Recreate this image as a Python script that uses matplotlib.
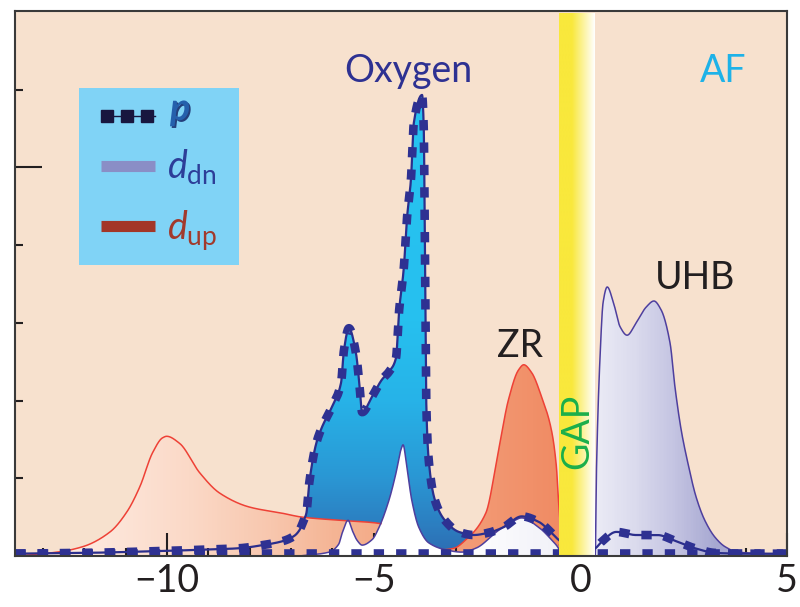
import numpy as np
import matplotlib
matplotlib.use("Agg")
import matplotlib.pyplot as plt
from matplotlib.colors import LinearSegmentedColormap
from matplotlib.patches import Polygon, Rectangle
from matplotlib.ticker import FixedLocator
import matplotlib.patheffects as pe

plt.rcParams["font.family"] = ["Lato", "DejaVu Sans"]
plt.rcParams["mathtext.fontset"] = "custom"
plt.rcParams["mathtext.rm"] = "Lato"
plt.rcParams["mathtext.it"] = "Lato:italic"

# ---- density of states (energy in eV, arbitrary units) ----
# oxygen p states (upper dotted curve)
p_x = [-13.68, -12.0, -10.42, -9.21, -8.25, -7.69, -7.21, -6.92, -6.80, -6.70,
       -6.63, -6.56, -6.39, -6.25, -6.01, -5.79, -5.72, -5.60, -5.43, -5.35,
       -5.28, -5.04, -4.80, -4.63, -4.46, -4.39, -4.27, -4.20, -4.10, -4.03,
       -3.83, -3.79, -3.77, -3.75, -3.73, -3.67, -3.52, -3.28, -2.94, -2.58,
       -2.22, -1.86, -1.42, -1.01, -0.70, -0.53, -0.20, 0.10, 0.36, 0.51,
       0.87, 1.35, 1.86, 2.32, 2.77, 3.26, 4.00, 5.00]
p_y = [0.03, 0.04, 0.06, 0.08, 0.10, 0.14, 0.19, 0.26, 0.33, 0.45,
       0.55, 0.94, 1.45, 1.66, 1.92, 2.23, 2.65, 2.93, 2.61, 2.23,
       1.85, 2.05, 2.27, 2.37, 2.55, 3.13, 3.72, 4.32, 4.84, 5.57,
       5.93, 5.52, 4.58, 3.29, 2.01, 1.24, 0.72, 0.46, 0.31, 0.27,
       0.30, 0.37, 0.51, 0.44, 0.30, 0.21, 0.10, 0.06, 0.10, 0.18,
       0.31, 0.27, 0.27, 0.19, 0.10, 0.04, 0.03, 0.03]

# oxygen p states, minority channel (flat dotted curve)
p_low_x = [-13.68, -6.0, 0.0, 5.00]
p_low_y = [0.04, 0.04, 0.04, 0.04]

# d spin-up states (lower Hubbard band and Zhang-Rice singlet)
up_x = [-13.68, -13.56, -12.66, -12.04, -11.38, -10.97, -10.66, -10.35, -10.11, -10.01,
        -9.70, -9.21, -8.73, -8.01, -7.21, -6.73, -5.84, -4.87, -4.40, -3.90,
        -3.35, -3.06, -2.77, -2.29, -1.98, -1.74, -1.50, -1.37, -1.18, -0.94,
        -0.70, -0.58, -0.53, -0.45, -0.35]
up_y = [0.01, 0.01, 0.05, 0.12, 0.31, 0.57, 0.89, 1.33, 1.52, 1.54,
        1.45, 1.07, 0.81, 0.63, 0.55, 0.50, 0.46, 0.42, 0.33, 0.20,
        0.08, 0.10, 0.21, 0.55, 1.36, 2.01, 2.39, 2.46, 2.36, 2.05,
        1.62, 1.15, 0.72, 0.20, 0.00]

# d spin-down states (occupied part and upper Hubbard band)
dn_x = [-6.80, -6.08, -5.85, -5.76, -5.62, -5.52, -5.40, -5.28, -5.04, -4.87,
        -4.63, -4.46, -4.34, -4.29, -4.20, -4.08, -3.91, -3.67, -3.26, -2.87,
        -2.53, -1.98, -1.66, -1.42, -1.01, -0.70, -0.53, -0.45, 0.30, 0.36,
        0.39, 0.48, 0.55, 0.65, 0.80, 0.96, 1.13, 1.35, 1.59, 1.78,
        1.95, 2.17, 2.29, 2.44, 2.60, 2.80, 3.01, 3.26, 3.50, 3.81, 5.00]
dn_y = [0.00, 0.05, 0.15, 0.30, 0.46, 0.33, 0.20, 0.14, 0.21, 0.37,
        0.72, 1.07, 1.37, 1.43, 1.15, 0.72, 0.37, 0.17, 0.08, 0.05,
        0.10, 0.33, 0.44, 0.49, 0.37, 0.21, 0.10, 0.00, 0.00, 0.00,
        1.11, 2.61, 3.26, 3.46, 3.26, 2.95, 2.84, 3.00, 3.20, 3.28,
        3.17, 2.74, 2.17, 1.62, 1.20, 0.76, 0.46, 0.24, 0.12, 0.05, 0.02]

gap_lo, gap_hi = -0.51, 0.36

x_ticks = [-10, -5, 0, 5]
x_tick_labels = ["\u221210", "\u22125", "0", "5"]

XMIN, XMAX = -13.68, 5.0
YMIN, YMAX = 0.0, 7.01


def smooth(x, y, n=4000):
    """Monotone cubic (PCHIP) curve through the given points, for drawing."""
    x = np.asarray(x, float)
    y = np.asarray(y, float)
    h = np.diff(x)
    d = np.diff(y) / h
    m = np.zeros_like(y)
    m[0], m[-1] = d[0], d[-1]
    for k in range(1, len(x) - 1):
        if d[k - 1] * d[k] > 0:
            w1 = 2 * h[k] + h[k - 1]
            w2 = h[k] + 2 * h[k - 1]
            m[k] = (w1 + w2) / (w1 / d[k - 1] + w2 / d[k])
    xs = np.linspace(x[0], x[-1], n)
    i = np.clip(np.searchsorted(x, xs) - 1, 0, len(x) - 2)
    t = (xs - x[i]) / h[i]
    h00 = (1 + 2 * t) * (1 - t) ** 2
    h10 = t * (1 - t) ** 2
    h01 = t ** 2 * (3 - 2 * t)
    h11 = t ** 2 * (t - 1)
    ys = h00 * y[i] + h10 * h[i] * m[i] + h01 * y[i + 1] + h11 * h[i] * m[i + 1]
    return xs, ys


fig = plt.figure(figsize=(8.0, 6.07), dpi=100)
ax = fig.add_axes([0.01875, 0.0840, 0.965, 0.8979])
ax.set_facecolor("#F7E1CE")


def cmap_from_stops(stops, lo, hi):
    pos = [(s - lo) / (hi - lo) for s, _ in stops]
    return LinearSegmentedColormap.from_list("g", list(zip(pos, [c for _, c in stops])))


def gradient_fill(verts, cmap, horizontal=True, z=1):
    patch = Polygon(verts, closed=True, facecolor="none", edgecolor="none",
                    transform=ax.transData)
    ax.add_patch(patch)
    if horizontal:
        arr = np.linspace(0, 1, 600).reshape(1, -1)
    else:
        arr = np.linspace(0, 1, 600).reshape(-1, 1)
    im = ax.imshow(arr, cmap=cmap, extent=(XMIN, XMAX, YMIN, YMAX), origin="lower",
                   aspect="auto", zorder=z, interpolation="bilinear")
    im.set_clip_path(patch)
    return im


def area_verts(xs, ys):
    return [(xs[0], 0.0)] + list(zip(xs, ys)) + [(xs[-1], 0.0)]


pcx, pcy = smooth(p_x, p_y, 6000)
ucx, ucy = smooth(up_x, up_y)
dcx, dcy = smooth(dn_x, dn_y)

# d-up band: pale on the far left, salmon toward the Fermi level
up_cmap = cmap_from_stops([(XMIN, "#FFF4EE"), (-11.5, "#FDE6DA"), (-9.5, "#FBD9C7"),
                           (-7.5, "#F8C7AE"), (-6.0, "#F5B595"), (-4.5, "#F4A884"),
                           (-2.0, "#F29670"), (-0.3, "#F08A62"), (XMAX, "#F08A62")], XMIN, XMAX)
gradient_fill(area_verts(ucx, ucy), up_cmap, True, z=1)

# d-down band: white below the gap, lavender above it
dn_cmap = cmap_from_stops([(XMIN, "#FFFFFF"), (-2.8, "#FFFFFF"), (-0.45, "#F1F1F8"),
                           (0.36, "#ECECF6"), (1.3, "#DCDCEE"), (2.3, "#C4C4E2"),
                           (3.3, "#A8A9D2"), (XMAX, "#9C9ECB")], XMIN, XMAX)
gradient_fill(area_verts(dcx, dcy), dn_cmap, True, z=3)

# oxygen weight above the d bands (blue, vertical gradient)
xs = np.linspace(-6.9, -0.5, 5000)
pu = np.interp(xs, pcx, pcy)
upi = np.interp(xs, ucx, ucy, left=0, right=0)
dni = np.interp(xs, dcx, dcy, left=0, right=0)
low = np.maximum(upi, dni)
top = np.maximum(pu, low)
blue_verts = list(zip(xs, top)) + list(zip(xs[::-1], low[::-1]))
blue_cmap = cmap_from_stops([(0.0, "#2D6CB2"), (0.4, "#2C7FC1"), (1.0, "#2A97D4"),
                             (2.0, "#27B3E8"), (3.0, "#26C0EF"), (YMAX, "#27C4F1")], YMIN, YMAX)
gradient_fill(blue_verts, blue_cmap, False, z=5)

# band outlines
uy_vis = np.where(np.interp(ucx, dcx, dcy, left=0, right=0) > ucy + 0.01, np.nan, ucy)
ax.plot(ucx, uy_vis, color="#EE4136", lw=1.1, zorder=6)
ax.plot(dcx, dcy, color="#4E3F9E", lw=1.1, zorder=6)

# p curves: thin line plus heavy square dots
ax.plot(pcx, pcy, color="#2B2E8C", lw=1.6, zorder=6.5)
ax.plot(pcx, pcy, color="#2E3192", lw=6.2, dashes=(1.2, 1.4), dash_capstyle="butt", zorder=7)
ax.plot(p_low_x, p_low_y, color="#2E3192", lw=6.2, dashes=(1.2, 1.4), dash_capstyle="butt", zorder=7)

# charge-transfer gap band
gap_cmap = LinearSegmentedColormap.from_list("gap", [(0, "#F9E83C"), (0.36, "#F9E83C"), (1, "#FFFFFF")])
ax.imshow(np.linspace(0, 1, 300).reshape(1, -1), cmap=gap_cmap,
          extent=(gap_lo, gap_hi, 0, 6.98), origin="lower", aspect="auto",
          zorder=8, interpolation="bilinear")

ax.set_xlim(XMIN, XMAX)
ax.set_ylim(YMIN, YMAX)

# annotations
fs = 27
ax.text(-4.15, 6.10, "Oxygen", color="#2E3192", fontsize=fs,
        ha="center", va="baseline", zorder=9)
ax.text(-1.45, 2.56, "ZR", color="#231F20", fontsize=fs,
        ha="center", va="baseline", zorder=9)
ax.text(2.77, 3.44, "UHB", color="#231F20", fontsize=fs,
        ha="center", va="baseline", zorder=9)
ax.text(3.45, 6.10, "AF", color="#1EB2E8", fontsize=fs,
        ha="center", va="baseline", zorder=9)
ax.text(-0.07, 1.60, "GAP", color="#1BAF4B", fontsize=fs, rotation=90,
        ha="center", va="center", zorder=9)

# legend panel
ax.add_patch(Rectangle((0.0829, 0.534), 0.2073, 0.3247, transform=ax.transAxes,
                       facecolor="#80D3F6", edgecolor="none", zorder=10))
ax.plot([0.1127, 0.1813], [0.8073, 0.8073], transform=ax.transAxes, color="#18163F",
        lw=1.0, zorder=11, clip_on=False)
ax.plot([0.1192, 0.1451, 0.1710], [0.8073] * 3, transform=ax.transAxes, ls="none",
        marker="s", ms=8, color="#18163F", zorder=11, clip_on=False)
ax.text(0.2008, 0.800, "p", transform=ax.transAxes, fontsize=fs, fontweight="bold",
        style="italic", color="#2560AC", va="baseline", zorder=11,
        path_effects=[pe.withSimplePatchShadow(offset=(1.2, -1.2), shadow_rgbFace="#1A2F6E", alpha=0.9)])
ax.plot([0.1114, 0.1813], [0.7147, 0.7147], transform=ax.transAxes, color="#8A8EC6",
        lw=8, solid_capstyle="butt", zorder=11, clip_on=False)
ax.text(0.197, 0.6936, r"$d_{\mathrm{dn}}$", transform=ax.transAxes, fontsize=fs,
        color="#2D3E98", va="baseline", zorder=11)
ax.plot([0.1114, 0.1813], [0.6046, 0.6046], transform=ax.transAxes, color="#A33628",
        lw=8, solid_capstyle="butt", zorder=11, clip_on=False)
ax.text(0.197, 0.5798, r"$d_{\mathrm{up}}$", transform=ax.transAxes, fontsize=fs,
        color="#A23A2C", va="baseline", zorder=11)

# axes styling
for s in ax.spines.values():
    s.set_color("#3A3A3A")
    s.set_linewidth(1.5)
    s.set_zorder(12)

ax.set_xticks(x_ticks)
ax.set_xticklabels(x_tick_labels)
ax.xaxis.set_minor_locator(FixedLocator([v for v in range(-13, 5) if v % 5 != 0]))
ax.tick_params(axis="x", which="major", direction="in", length=16.5, width=1.5,
               color="#231F20", labelcolor="#231F20", labelsize=fs, pad=5)
ax.tick_params(axis="x", which="minor", direction="in", length=6, width=1.5, color="#231F20")
ax.set_yticks([5])
ax.set_yticklabels([])
ax.yaxis.set_minor_locator(FixedLocator([1, 2, 3, 4, 6]))
ax.tick_params(axis="y", which="major", direction="in", length=19.5, width=1.5, color="#231F20")
ax.tick_params(axis="y", which="minor", direction="in", length=6, width=1.5, color="#231F20")

fig.savefig("out.png", dpi=100, facecolor="white")
